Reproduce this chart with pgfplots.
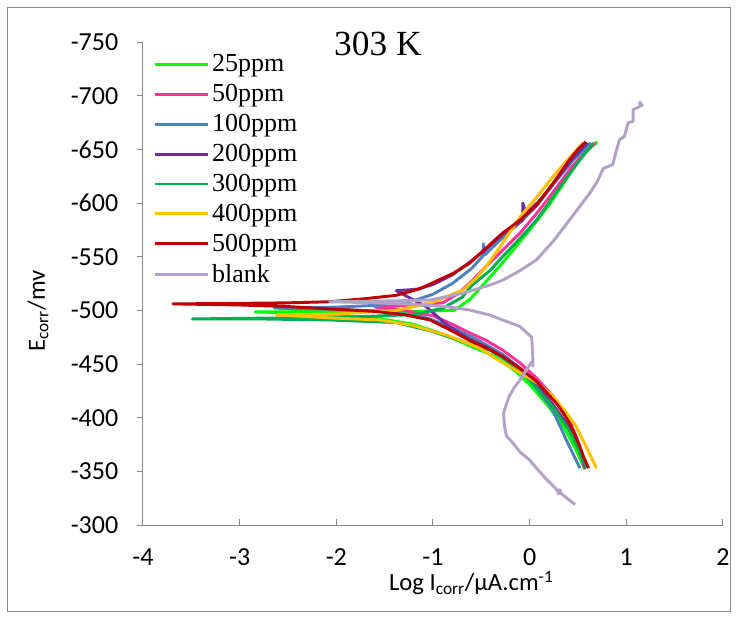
\documentclass[border=0pt]{standalone}
\usepackage{fontspec}
\setmainfont{Liberation Serif}
\newfontfamily\carlito{Carlito}
\usepackage{pgfplots}
\pgfplotsset{compat=1.18}
\definecolor{axgray}{RGB}{134,134,134}
\definecolor{c25}{RGB}{0,255,0}
\definecolor{c50}{RGB}{255,51,153}
\definecolor{c100}{RGB}{79,129,189}
\definecolor{c200}{RGB}{112,48,160}
\definecolor{c300}{RGB}{0,176,80}
\definecolor{c400}{RGB}{255,192,0}
\definecolor{c500}{RGB}{192,0,0}
\definecolor{cblank}{RGB}{179,162,199}

\begin{document}
\begin{tikzpicture}
\begin{axis}[
  name=ax,
  width=435pt, height=362.25pt, scale only axis,
  xmin=-4, xmax=2, ymin=-750, ymax=-300, y dir=reverse,
  axis x line=bottom, axis y line=left,
  axis line style={-, axgray, line width=0.75pt},
  xtick={-4,-3,...,2}, ytick={-750,-700,...,-300},
  xtick align=inside, ytick align=outside,
  major tick length=4.5pt,
  tick style={axgray, line width=0.75pt},
  /pgf/number format/assume math mode=true,
  tick label style={font=\carlito\fontsize{19.5}{21}\selectfont, black},
  yticklabel style={xshift=-10.5pt},
  xticklabel style={yshift=-14pt},
  xlabel={Log I\textsubscript{corr}/μA.cm\textsuperscript{-1}},
  ylabel={E\textsubscript{corr}/mv},
  label style={font=\carlito\fontsize{18.5}{20}\selectfont},
  xlabel style={at={(axis description cs:0.566,-0.12)}, anchor=center},
  ylabel style={at={(axis description cs:-0.181,0.443)}, anchor=center},
  clip=false,
  every axis plot/.append style={line width=2.2pt, line join=round},
  legend style={at={(axis description cs:0.017,0.98)}, anchor=north west,
    draw=none, fill=none, inner sep=0pt,
    font=\fontsize{19.5}{22.8}\selectfont, row sep=4pt,
    cells={anchor=west}},
  legend image code/.code={\draw[#1] (0pt,0pt) -- (40pt,0pt);},
]
% 25ppm
\addplot[c25] coordinates {
(0.57,-352) (0.47,-372) (0.36,-390) (0.20,-410) (0.03,-428) (-0.14,-443)
(-0.36,-457) (-0.62,-467) (-0.90,-478) (-1.20,-487) (-1.60,-493) (-2.20,-497)
(-2.84,-498.5) (-2.00,-499) (-1.20,-499) (-0.78,-500) (-0.62,-510) (-0.50,-522)
(-0.35,-537) (-0.20,-553) (0.00,-575) (0.20,-598) (0.40,-625) (0.55,-645) (0.70,-657)
};
% 50ppm
\addplot[c50] coordinates {
(0.57,-352) (0.50,-378) (0.41,-398) (0.24,-420) (0.07,-437) (-0.10,-451)
(-0.28,-463) (-0.45,-472) (-0.62,-479) (-0.80,-487) (-1.00,-495) (-1.30,-500)
(-1.60,-503) (-1.20,-505) (-0.90,-507) (-0.75,-515) (-0.60,-527) (-0.45,-541)
(-0.28,-556) (-0.10,-572) (0.07,-590) (0.25,-611) (0.43,-633) (0.56,-646) (0.68,-656)
};
% 100ppm
\addplot[c100] coordinates {
(0.52,-353) (0.45,-366) (0.38,-379) (0.30,-395) (0.24,-407) (0.07,-428)
(-0.10,-446) (-0.28,-459) (-0.45,-468) (-0.62,-476) (-0.85,-486) (-1.10,-494)
(-1.50,-499) (-2.00,-501) (-2.64,-502) (-2.00,-503) (-1.50,-505) (-1.20,-509)
(-1.00,-515) (-0.80,-525) (-0.60,-539) (-0.48,-551) (-0.48,-562) (-0.46,-552)
(-0.30,-566) (-0.10,-582) (0.07,-597) (0.25,-618) (0.45,-640) (0.63,-656)
};
% 200ppm
\addplot[c200] coordinates {
(0.58,-353) (0.50,-372) (0.40,-392) (0.25,-411) (0.07,-431) (-0.10,-445)
(-0.28,-457) (-0.45,-466) (-0.62,-473) (-0.85,-486) (-1.07,-503.4) (-1.38,-518.3)
(-1.17,-519.6) (-1.00,-524) (-0.80,-533) (-0.62,-545) (-0.45,-557) (-0.28,-571)
(-0.07,-584) (-0.07,-600) (-0.04,-590) (0.10,-602) (0.26,-620) (0.43,-640) (0.60,-656)
};
% 300ppm
\addplot[c300] coordinates {
(0.59,-353) (0.50,-372) (0.41,-388) (0.24,-410) (0.07,-428) (-0.10,-444)
(-0.30,-457) (-0.41,-463) (-0.69,-471) (-1.03,-481) (-1.38,-488.6) (-2.07,-491)
(-2.80,-492) (-3.49,-492) (-2.50,-493) (-1.80,-494) (-1.20,-496) (-0.90,-502)
(-0.70,-512) (-0.59,-524) (-0.41,-537) (-0.28,-550) (-0.10,-567) (0.07,-584)
(0.34,-618) (0.50,-638) (0.66,-656)
};
% 400ppm
\addplot[c400] coordinates {
(0.69,-353) (0.60,-370) (0.48,-392) (0.36,-407) (0.24,-420) (0.07,-433)
(-0.10,-442) (-0.35,-455) (-0.52,-465) (-0.86,-477) (-1.21,-486) (-1.55,-491)
(-2.07,-493) (-2.62,-495.7) (-2.00,-496.5) (-1.38,-500) (-1.03,-506.6) (-0.85,-513)
(-0.69,-519) (-0.55,-530) (-0.45,-541) (-0.30,-560) (-0.10,-587) (0.07,-605)
(0.24,-624.5) (0.40,-641) (0.55,-656)
};
% 500ppm
\addplot[c500] coordinates {
(0.61,-353) (0.56,-363) (0.52,-373) (0.47,-384) (0.41,-395) (0.35,-404)
(0.28,-413) (0.17,-424) (0.07,-434) (-0.10,-446) (-0.28,-457) (-0.45,-465)
(-0.62,-472) (-0.83,-482) (-1.03,-491) (-1.30,-496) (-1.60,-499) (-2.00,-501)
(-2.50,-503.5) (-3.00,-505) (-3.69,-506) (-3.00,-506.5) (-2.50,-507) (-2.07,-508)
(-1.73,-510.6) (-1.38,-514) (-1.14,-520) (-0.97,-527) (-0.79,-534.5) (-0.62,-544)
(-0.45,-558) (-0.28,-572) (-0.10,-584) (0.07,-598) (0.24,-618) (0.41,-640)
(0.50,-650) (0.58,-657)
};
% blank
\addplot[cblank] coordinates {
(0.47,-319) (0.40,-324) (0.33,-329) (0.31,-333) (0.30,-329) (0.28,-333)
(0.17,-343) (0.08,-352) (0.00,-360.5) (-0.10,-368) (-0.17,-376) (-0.24,-383)
(-0.26,-392) (-0.27,-404) (-0.24,-413) (-0.21,-420) (-0.16,-428) (-0.10,-435)
(-0.03,-445) (0.02,-452) (0.035,-448) (0.03,-463) (0.02,-475) (-0.04,-480)
(-0.10,-485) (-0.28,-491) (-0.41,-495.6) (-0.62,-500.3) (-0.86,-503.4) (-1.20,-505.5)
(-1.60,-507) (-2.07,-508) (-1.60,-508.5) (-1.03,-509.6) (-0.69,-516) (-0.41,-523.6)
(-0.28,-528) (-0.10,-537) (0.07,-547) (0.25,-565) (0.41,-584) (0.52,-597)
(0.62,-609) (0.70,-620) (0.76,-632) (0.86,-636) (0.90,-650) (0.93,-659)
(0.98,-662) (1.02,-675) (1.07,-676) (1.07,-687) (1.14,-690) (1.14,-694) (1.17,-690)
};
\legend{25ppm,50ppm,100ppm,200ppm,300ppm,400ppm,500ppm,blank}
\node[font=\fontsize{26.5}{30}\selectfont, inner sep=0pt] at (axis cs:-1.57,-748) {303 K};
\end{axis}
\draw[axgray, line width=0.75pt] ([shift={(-101.25pt,-65.25pt)}]ax.south west) rectangle ([shift={(440.25pt,387.75pt)}]ax.south west);
\pgfresetboundingbox
\path ([shift={(-107.25pt,-72pt)}]ax.south west) rectangle ([shift={(444.75pt,393.75pt)}]ax.south west);
\end{tikzpicture}
\end{document}
